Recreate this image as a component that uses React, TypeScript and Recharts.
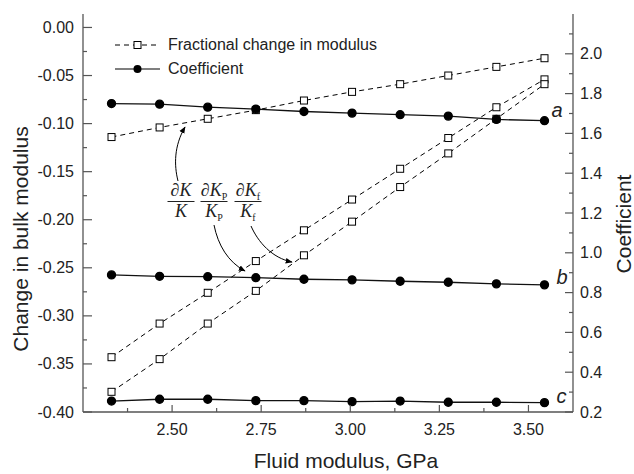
import React from "react";
import { ComposedChart, Line, XAxis, YAxis, Legend, ReferenceDot } from "recharts";

// fluid modulus (GPa) at each computed point
const fluidModulus = [2.33, 2.465, 2.6, 2.735, 2.87, 3.005, 3.14, 3.275, 3.41, 3.545];

// fractional changes (left axis)
const dKK = [-0.114, -0.104, -0.095, -0.086, -0.076, -0.067, -0.059, -0.05, -0.041, -0.032];
const dKpKp = [-0.343, -0.308, -0.276, -0.243, -0.211, -0.179, -0.147, -0.115, -0.083, -0.054];
const dKfKf = [-0.379, -0.345, -0.308, -0.274, -0.237, -0.202, -0.166, -0.131, -0.095, -0.059];

// coefficients (right axis)
const coefA = [1.75, 1.747, 1.732, 1.722, 1.71, 1.702, 1.694, 1.687, 1.67, 1.664];
const coefB = [0.889, 0.882, 0.88, 0.875, 0.867, 0.864, 0.857, 0.852, 0.844, 0.839];
const coefC = [0.255, 0.264, 0.264, 0.257, 0.257, 0.252, 0.255, 0.249, 0.249, 0.247];

const xTicksMajor = [2.5, 2.75, 3.0, 3.25, 3.5];
const xTicksMinor = [2.375, 2.625, 2.875, 3.125, 3.375];
const leftTicksMajor = [0, -0.05, -0.1, -0.15, -0.2, -0.25, -0.3, -0.35, -0.4];
const leftTicksMinor = [-0.025, -0.075, -0.125, -0.175, -0.225, -0.275, -0.325, -0.375];
const rightTicksMajor = [0.2, 0.4, 0.6, 0.8, 1.0, 1.2, 1.4, 1.6, 1.8, 2.0];
const rightTicksMinor = [0.3, 0.5, 0.7, 0.9, 1.1, 1.3, 1.5, 1.7, 1.9, 2.1];

const data = fluidModulus.map((x, i) => ({
  x,
  dKK: dKK[i],
  dKpKp: dKpKp[i],
  dKfKf: dKfKf[i],
  a: coefA[i],
  b: coefB[i],
  c: coefC[i],
}));

const FONT = "'Liberation Sans', Arial, sans-serif";
const SERIF = "'Liberation Serif', 'Times New Roman', serif";
const INK = "#222";
const FRAME = "#555";

const isMajor = (v: number, step: number) => Math.abs(v / step - Math.round(v / step)) < 1e-6;

function BottomTick({ x, y, payload }: any) {
  const major = isMajor(payload.value, 0.25);
  return (
    <g>
      <line x1={x} x2={x} y1={y} y2={y - (major ? 7 : 4)} stroke={FRAME} strokeWidth={1.2} />
      {major && (
        <text x={x} y={y + 23} textAnchor="middle" fontSize={16} fill={INK} fontFamily={FONT}>
          {payload.value.toFixed(2)}
        </text>
      )}
    </g>
  );
}

// top axis has its long ticks between the labelled values
function TopTick({ x, y, payload }: any) {
  const major = isMajor(payload.value, 0.25);
  return <line x1={x} x2={x} y1={y} y2={y + (major ? 5 : 9)} stroke={FRAME} strokeWidth={1.2} />;
}

function LeftTick({ x, y, payload }: any) {
  const major = isMajor(payload.value, 0.05);
  return (
    <g>
      <line x1={x} x2={x + (major ? 9 : 4)} y1={y} y2={y} stroke={FRAME} strokeWidth={1.2} />
      {major && (
        <text x={x - 9} y={y + 5.5} textAnchor="end" fontSize={16} fill={INK} fontFamily={FONT}>
          {payload.value.toFixed(2)}
        </text>
      )}
    </g>
  );
}

function RightTick({ x, y, payload }: any) {
  const major = isMajor(payload.value, 0.2);
  return (
    <g>
      <line x1={x} x2={x - (major ? 8 : 4)} y1={y} y2={y} stroke={FRAME} strokeWidth={1.2} />
      {major && (
        <text x={x + 7} y={y + 5.5} textAnchor="start" fontSize={16} fill={INK} fontFamily={FONT}>
          {payload.value.toFixed(1)}
        </text>
      )}
    </g>
  );
}

const squareDot = (p: any) => (
  <rect key={`sq-${p.index}`} x={p.cx - 3.5} y={p.cy - 3.5} width={7} height={7} fill="#fff" stroke="#000" strokeWidth={1} />
);

function LegendBox() {
  const row = { display: "flex", alignItems: "center", height: 24 } as const;
  return (
    <div style={{ fontFamily: FONT, fontSize: 16, color: INK, lineHeight: "24px" }}>
      <div style={row}>
        <svg width={53} height={24}>
          <line x1={0} y1={12} x2={45} y2={12} stroke="#000" strokeDasharray="5 4" />
          <rect x={19} y={8.5} width={7} height={7} fill="#fff" stroke="#000" />
        </svg>
        <span>Fractional change in modulus</span>
      </div>
      <div style={row}>
        <svg width={53} height={24}>
          <line x1={0} y1={12} x2={45} y2={12} stroke="#000" strokeWidth={1.2} />
          <circle cx={22.5} cy={12} r={4} fill="#000" />
        </svg>
        <span>Coefficient</span>
      </div>
    </div>
  );
}

const curveLabel = (text: string, dx: number, dy: number) => (props: any) => {
  const vb = props.viewBox || {};
  return (
    <text x={vb.x + dx} y={vb.y + dy} fontSize={20} fontStyle="italic" fill={INK} fontFamily={FONT}>
      {text}
    </text>
  );
};

function Frac({ cx, num, sub }: { cx: number; num: string; sub?: string }) {
  return (
    <g fontFamily={SERIF} fill={INK}>
      <text x={cx} y={196} textAnchor="middle" fontSize={18} fontStyle="italic">
        {"\u2202"}{num}
        {sub && <tspan fontSize={10} fontStyle="normal" dy={4}>{sub}</tspan>}
      </text>
      <line x1={cx - 13.5} x2={cx + 13.5} y1={201.5} y2={201.5} stroke={INK} strokeWidth={1} />
      <text x={cx} y={217} textAnchor="middle" fontSize={18} fontStyle="italic">
        {num}
        {sub && <tspan fontSize={10} fontStyle="normal" dy={4}>{sub}</tspan>}
      </text>
    </g>
  );
}

export default function App() {
  const last = fluidModulus.length - 1;
  return (
    <div style={{ position: "absolute", left: 0, top: 0, width: 634, height: 474, background: "#fff" }}>
      <ComposedChart width={634} height={474} data={data} margin={{ top: 14, right: 0, bottom: 0, left: 0 }}>
        <XAxis
          dataKey="x"
          type="number"
          domain={[2.25, 3.625]}
          allowDataOverflow
          ticks={[...xTicksMinor, ...xTicksMajor].sort((p, q) => p - q)}
          interval={0}
          tickSize={0}
          tickMargin={0}
          tickLine={false}
          tick={<BottomTick />}
          height={62}
          axisLine={{ stroke: FRAME, strokeWidth: 1.3 }}
        />
        <XAxis
          xAxisId="top"
          orientation="top"
          dataKey="x"
          type="number"
          domain={[2.25, 3.625]}
          allowDataOverflow
          ticks={[...xTicksMinor, ...xTicksMajor].sort((p, q) => p - q)}
          interval={0}
          tickSize={0}
          tickMargin={0}
          tickLine={false}
          tick={<TopTick />}
          height={0}
          axisLine={{ stroke: FRAME, strokeWidth: 1.3 }}
        />
        <YAxis
          yAxisId="left"
          type="number"
          domain={[-0.4, 0.014]}
          allowDataOverflow
          ticks={[...leftTicksMajor, ...leftTicksMinor].sort((p, q) => p - q)}
          interval={0}
          tickSize={0}
          tickMargin={0}
          tickLine={false}
          tick={<LeftTick />}
          width={83}
          axisLine={{ stroke: FRAME, strokeWidth: 1.3 }}
        />
        <YAxis
          yAxisId="right"
          orientation="right"
          type="number"
          domain={[0.2, 2.2]}
          allowDataOverflow
          ticks={[...rightTicksMajor, ...rightTicksMinor].sort((p, q) => p - q)}
          interval={0}
          tickSize={0}
          tickMargin={0}
          tickLine={false}
          tick={<RightTick />}
          width={61}
          axisLine={{ stroke: FRAME, strokeWidth: 1.3 }}
        />
        <Legend
          layout="vertical"
          align="center"
          verticalAlign="middle"
          content={<LegendBox />}
          wrapperStyle={{ left: 115, top: 33, width: 280 }}
        />

        <Line yAxisId="left" dataKey="dKK" stroke="#000" strokeWidth={1} strokeDasharray="5 4" dot={squareDot} isAnimationActive={false} />
        <Line yAxisId="left" dataKey="dKpKp" stroke="#000" strokeWidth={1} strokeDasharray="5 4" dot={squareDot} isAnimationActive={false} />
        <Line yAxisId="left" dataKey="dKfKf" stroke="#000" strokeWidth={1} strokeDasharray="5 4" dot={squareDot} isAnimationActive={false} />

        <Line yAxisId="right" dataKey="a" stroke="#111" strokeWidth={1.3} dot={{ r: 4, fill: "#000", stroke: "#000" }} isAnimationActive={false} />
        <Line yAxisId="right" dataKey="b" stroke="#111" strokeWidth={1.3} dot={{ r: 4, fill: "#000", stroke: "#000" }} isAnimationActive={false} />
        <Line yAxisId="right" dataKey="c" stroke="#111" strokeWidth={1.3} dot={{ r: 4, fill: "#000", stroke: "#000" }} isAnimationActive={false} />

        <ReferenceDot yAxisId="right" x={fluidModulus[last]} y={coefA[last]} r={0} stroke="none" label={curveLabel("a", 7, -4)} />
        <ReferenceDot yAxisId="right" x={fluidModulus[last]} y={coefB[last]} r={0} stroke="none" label={curveLabel("b", 12, -1)} />
        <ReferenceDot yAxisId="right" x={fluidModulus[last]} y={coefC[last]} r={0} stroke="none" label={curveLabel("c", 12, 0)} />
      </ComposedChart>

      <svg width={634} height={474} style={{ position: "absolute", left: 0, top: 0, pointerEvents: "none" }}>
        <defs>
          <marker id="arrow" viewBox="0 0 10 10" refX={9} refY={5} markerWidth={7} markerHeight={7} orient="auto">
            <path d="M0,1 L10,5 L0,9 z" fill="#000" />
          </marker>
        </defs>
        <text x={346} y={468} textAnchor="middle" fontSize={21} fill={INK} fontFamily={FONT}>
          Fluid modulus, GPa
        </text>
        <text transform="translate(28,239) rotate(-90)" textAnchor="middle" fontSize={21} fill={INK} fontFamily={FONT}>
          Change in bulk modulus
        </text>
        <text transform="translate(631,224) rotate(-90)" textAnchor="middle" fontSize={21} fill={INK} fontFamily={FONT}>
          Coefficient
        </text>

        <Frac cx={181} num="K" />
        <Frac cx={214} num="K" sub="P" />
        <Frac cx={248} num="K" sub="f" />

        <path d="M178,181 C174,165 174,146 185,127" fill="none" stroke="#000" strokeWidth={1} markerEnd="url(#arrow)" />
        <path d="M214,225 C218,245 228,262 245,271" fill="none" stroke="#000" strokeWidth={1} markerEnd="url(#arrow)" />
        <path d="M251,226 C258,242 272,258 292,262" fill="none" stroke="#000" strokeWidth={1} markerEnd="url(#arrow)" />
      </svg>
    </div>
  );
}
